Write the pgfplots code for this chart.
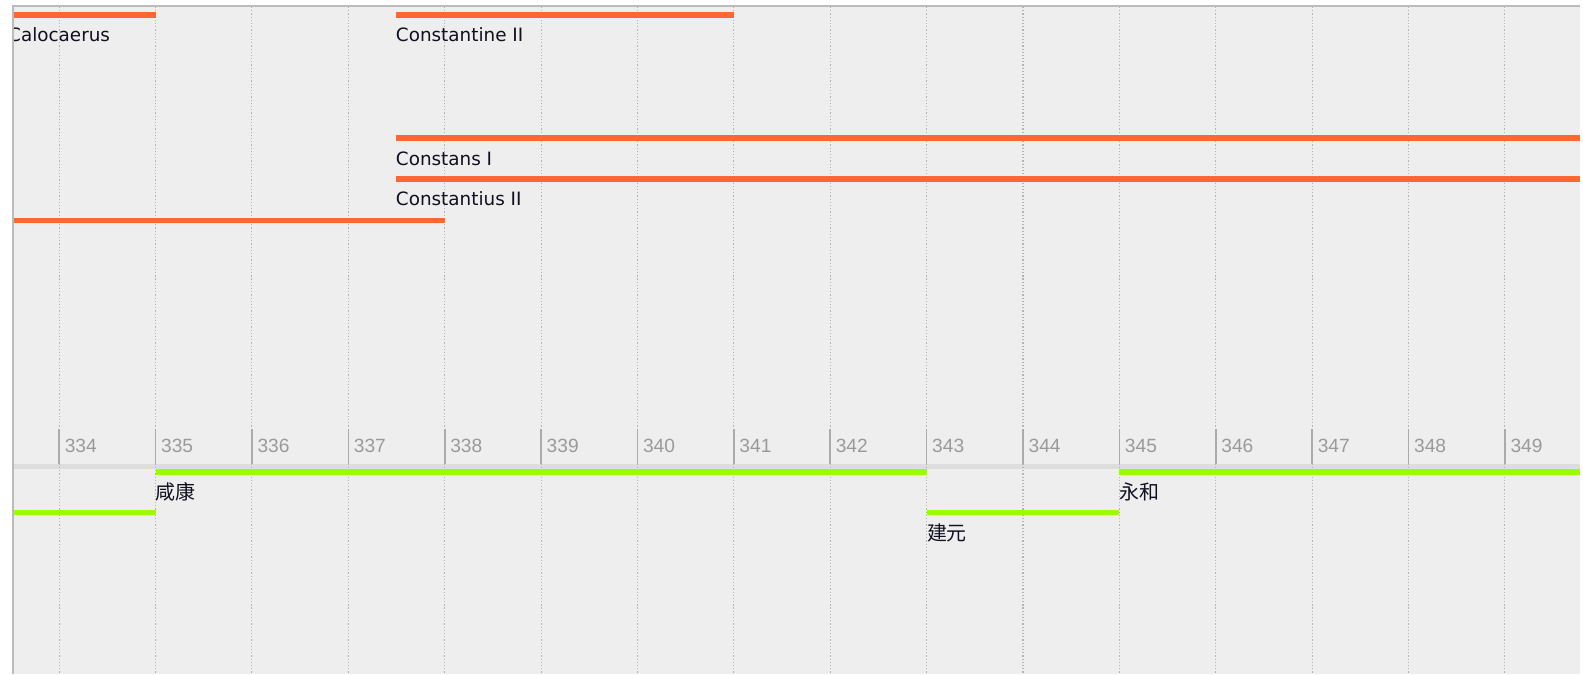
\documentclass[border=0pt]{standalone}
\usepackage{pgfplots}
\pgfplotsset{compat=1.18}
\usepackage{fontspec}
\setmainfont{DejaVu Sans}
\newfontfamily\tickfont{Liberation Sans}
\newfontfamily\cjk{Noto Sans CJK SC}
\definecolor{bgc}{HTML}{EEEEEE}
\definecolor{bordc}{HTML}{BBBBBB}
\definecolor{bandc}{HTML}{DDDDDD}
\definecolor{gridc}{HTML}{B4B4B4}
\definecolor{tickc}{HTML}{ABABAB}
\definecolor{ticklab}{HTML}{9A9A9A}
\definecolor{orng}{HTML}{FF6633}
\definecolor{grn}{HTML}{99FF00}
\definecolor{txt}{HTML}{101020}
\begin{document}
\begin{tikzpicture}
\begin{axis}[
  width=791.5pt, height=337.5pt, scale only axis,
  xmin=333.386, xmax=349.78, ymin=0, ymax=675, y dir=reverse,
  axis lines=none, clip=false,
  every axis plot/.append style={line width=2.9pt, line cap=butt},
]
% background
\addplot[draw=none, fill=white, line width=0pt] coordinates {(333.386,0) (349.78,0) (349.78,675) (333.386,675)} -- cycle;
\addplot[draw=none, fill=bgc, line width=0pt] coordinates {(333.5205,6) (349.78,6) (349.78,675) (333.5205,675)} -- cycle;
% band under ticks
\addplot[draw=none, fill=bandc, line width=0pt] coordinates {(333.5205,465) (349.78,465) (349.78,470) (333.5205,470)} -- cycle;
% gridlines
\pgfplotsinvokeforeach{334,...,349}{
  \addplot[gridc, line width=0.55pt, dash pattern=on 0.6pt off 1pt] coordinates {(#1,7) (#1,675)};
  \addplot[tickc, line width=0.8pt] coordinates {(#1,430) (#1,465)};
  \node[anchor=base west, inner sep=0pt, text=ticklab, font=\tickfont\fontsize{9.6}{10}\selectfont] at (axis cs:#1,453.5) [xshift=2.6pt] {#1};
}
% borders
\addplot[bordc, line width=1pt] coordinates {(333.5205,675) (333.5205,6) (349.78,6)};
% orange bars
\addplot[orng] coordinates {(333.53,15) (335,15)};
\addplot[orng] coordinates {(337.49,15) (341,15)};
\addplot[orng] coordinates {(337.49,138.5) (349.78,138.5)};
\addplot[orng] coordinates {(337.49,179.5) (349.78,179.5)};
\addplot[orng] coordinates {(333.53,221) (338,221)};
% green bars
\addplot[grn] coordinates {(335,472.5) (343,472.5)};
\addplot[grn] coordinates {(333.53,513.5) (335,513.5)};
\addplot[grn] coordinates {(343,513.5) (345,513.5)};
\addplot[grn] coordinates {(345,472.5) (349.78,472.5)};
% labels
\begin{scope}[every node/.style={anchor=base west, inner sep=0pt, text=txt, font=\fontsize{9.2}{10}\selectfont}]
\node at (axis cs:333.467,42) {Calocaerus};
\node at (axis cs:337.49,42) {Constantine II};
\node at (axis cs:337.49,165.5) {Constans I};
\node at (axis cs:337.49,206) {Constantius II};
\end{scope}
\begin{scope}[every node/.style={anchor=base west, inner sep=0pt, text=txt, font=\cjk\fontsize{10}{11}\selectfont}]
\node at (axis cs:335,500) {咸康};
\node at (axis cs:343,541) {建元};
\node at (axis cs:345,500) {永和};
\end{scope}
% white mask left of chart
\addplot[draw=none, fill=white, line width=0pt] coordinates {(333.386,0) (333.513,0) (333.513,675) (333.386,675)} -- cycle;
\addplot[bordc, line width=1pt] coordinates {(333.5205,675) (333.5205,6)};
\end{axis}
\end{tikzpicture}
\end{document}
